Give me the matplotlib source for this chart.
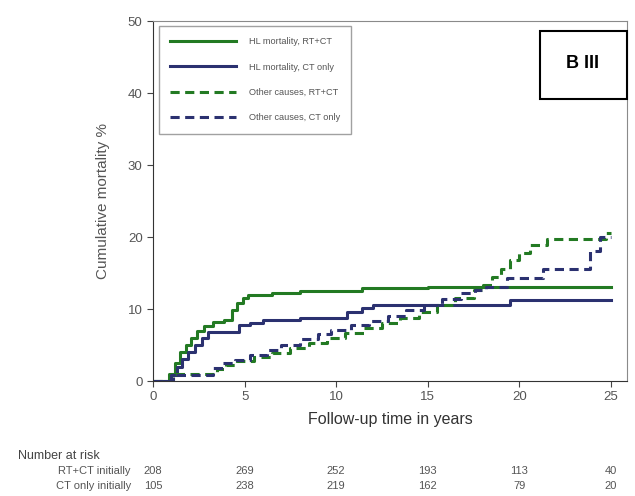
import matplotlib
matplotlib.use('Agg')
import matplotlib.pyplot as plt
from matplotlib.lines import Line2D
from matplotlib.patches import Rectangle
from matplotlib.transforms import blended_transform_factory

plt.rcParams['font.family'] = ['Liberation Sans', 'DejaVu Sans']

# Courbes cumulatives (temps en années, mortalité en %)
t_hl_rtct = [0, 0.9, 1.2, 1.5, 1.8, 2.1, 2.4, 2.8, 3.3, 3.9, 4.3, 4.6, 4.9, 5.2, 6.5, 8.0, 11.4, 15.0, 25]
v_hl_rtct = [0, 1.0, 2.5, 4.0, 5.0, 6.0, 7.0, 7.6, 8.2, 8.5, 9.9, 10.8, 11.5, 11.9, 12.2, 12.5, 12.9, 13.1, 13.1]

t_hl_ct = [0, 1.0, 1.3, 1.6, 1.9, 2.3, 2.7, 3.0, 4.7, 5.3, 6.0, 8.0, 10.6, 11.4, 12.0, 19.5, 25]
v_hl_ct = [0, 0.9, 2.0, 3.0, 4.0, 5.0, 6.0, 6.8, 7.8, 8.1, 8.5, 8.8, 9.6, 10.1, 10.5, 11.2, 11.2]

t_oc_rtct = [0, 1.1, 3.5, 4.0, 4.6, 5.5, 6.5, 7.5, 8.5, 9.5, 10.5, 11.5, 12.5, 13.5, 14.5, 15.5,
             16.5, 17.5, 18.0, 18.5, 19.0, 19.5, 20.0, 20.6, 21.5, 24.7, 25]
v_oc_rtct = [0, 1.0, 1.6, 2.2, 2.8, 3.3, 3.9, 4.6, 5.3, 6.0, 6.6, 7.3, 8.0, 8.8, 9.6, 10.5,
             11.5, 12.6, 13.4, 14.5, 15.6, 16.8, 17.8, 18.9, 19.7, 20.5, 20.5]

t_oc_ct = [0, 1.1, 3.3, 3.8, 4.5, 5.3, 6.2, 7.0, 8.0, 9.0, 9.7, 10.8, 11.8, 12.8, 13.8, 14.8,
           15.8, 16.8, 17.6, 18.2, 19.3, 21.3, 23.85, 24.4, 25]
v_oc_ct = [0, 0.9, 1.8, 2.5, 2.9, 3.6, 4.3, 5.0, 5.8, 6.5, 7.1, 7.8, 8.4, 9.0, 9.8, 10.6,
           11.4, 12.2, 12.7, 13.1, 14.3, 15.5, 18.0, 20.0, 20.0]

# Nombre de sujets à risque
temps_risque = [0, 5, 10, 15, 20, 25]
risque_rtct = [208, 269, 252, 193, 113, 40]
risque_ct = [105, 238, 219, 162, 79, 20]

vert = '#237a23'
bleu = '#2b3170'
gris = '#555555'

fig = plt.figure(figsize=(6.35, 4.96), dpi=100)
ax = fig.add_axes([153 / 635, 1 - 381 / 496, (627 - 153) / 635, (381 - 21) / 496])

ax.step(t_hl_rtct, v_hl_rtct, where='post', color=vert, lw=2.2)
ax.step(t_hl_ct, v_hl_ct, where='post', color=bleu, lw=2.2)
ax.step(t_oc_rtct, v_oc_rtct, where='post', color=vert, lw=2.2, dashes=(3, 1.8))
ax.step(t_oc_ct, v_oc_ct, where='post', color=bleu, lw=2.2, dashes=(3, 1.8))

ax.set_xlim(0, 25.87)
ax.set_ylim(0, 50)
ax.set_xticks(temps_risque)
ax.set_yticks([0, 10, 20, 30, 40, 50])
ax.tick_params(length=4, width=0.8, colors='#444444', labelsize=9.5, labelcolor=gris)
for cote in ['top', 'right']:
    ax.spines[cote].set_color('#8a8a8a')
for cote in ['left', 'bottom']:
    ax.spines[cote].set_color('#333333')
ax.set_ylabel('Cumulative mortality %', fontsize=11, color=gris, labelpad=13)
ax.set_xlabel('Follow-up time in years', fontsize=11.5, color='#333333', labelpad=6)

# Légende
poignees = [Line2D([0], [0], color=vert, lw=2.2),
            Line2D([0], [0], color=bleu, lw=2.2),
            Line2D([0], [0], color=vert, lw=2.2, dashes=(3, 1.8)),
            Line2D([0], [0], color=bleu, lw=2.2, dashes=(3, 1.8))]
noms = ['HL mortality, RT+CT', 'HL mortality, CT only', 'Other causes, RT+CT', 'Other causes, CT only']
leg = ax.legend(poignees, noms, loc='upper left', bbox_to_anchor=(159 / 635, 1 - 26 / 496),
                bbox_transform=fig.transFigure, fontsize=6.6, handlelength=7.2,
                labelspacing=1.8, borderpad=1.2, handletextpad=1.4, fancybox=False,
                edgecolor='#8a8a8a', labelcolor=gris, borderaxespad=0)
leg.get_frame().set_linewidth(1.0)

# Encadré "B III"
fig.patches.append(Rectangle((540 / 635, 1 - 99 / 496), 87 / 635, 68 / 496,
                             transform=fig.transFigure, fill=False, ec='black', lw=1.5))
fig.text(583 / 635, 1 - 64 / 496, 'B III', ha='center', va='center', fontsize=13,
         fontweight='bold', color='black')

# Tableau des effectifs
trans = blended_transform_factory(ax.transData, fig.transFigure)
fig.text(18 / 635, 1 - 456 / 496, 'Number at risk', fontsize=9, color='#444444', va='center')
fig.text(131 / 635, 1 - 471 / 496, 'RT+CT initially', fontsize=8, color=gris, va='center', ha='right')
fig.text(131 / 635, 1 - 486 / 496, 'CT only initially', fontsize=8, color=gris, va='center', ha='right')
for t, a, b in zip(temps_risque, risque_rtct, risque_ct):
    ax.text(t, 1 - 471 / 496, str(a), transform=trans, ha='center', va='center', fontsize=8, color=gris)
    ax.text(t, 1 - 486 / 496, str(b), transform=trans, ha='center', va='center', fontsize=8, color=gris)

fig.savefig('out.png', dpi=100)
